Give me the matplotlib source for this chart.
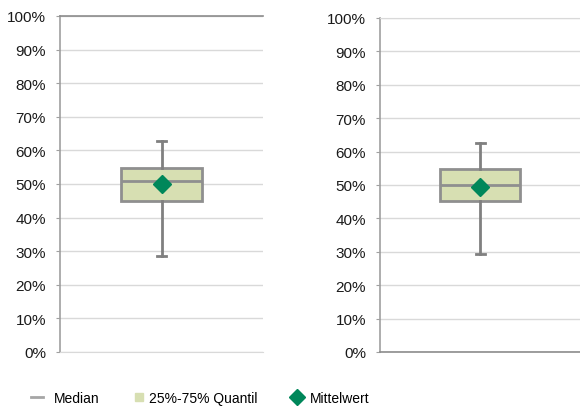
import matplotlib
matplotlib.use("Agg")
import matplotlib.pyplot as plt
from matplotlib.lines import Line2D
from matplotlib.ticker import PercentFormatter

plt.rcParams["font.family"] = ["Liberation Sans", "DejaVu Sans"]

# box statistics (fraction of 1)
whisker_low = [0.285, 0.294]
q1 = [0.450, 0.453]
median = [0.510, 0.500]
q3 = [0.547, 0.549]
whisker_high = [0.629, 0.625]
mean = [0.499, 0.494]

yticks = [i / 10 for i in range(11)]

box_fill = "#d7dfb2"
box_edge = "#8f8f8f"
whisk_col = "#808080"
mean_col = "#00875a"
grid_col = "#d9d9d9"

fig = plt.figure(figsize=(5.8, 4.1), dpi=100)
axes = [
    fig.add_axes([60 / 580, 57 / 410, 203 / 580, 336 / 410]),
    fig.add_axes([380 / 580, 57 / 410, 200 / 580, 334 / 410]),
]

for i, ax in enumerate(axes):
    stats = [dict(whislo=whisker_low[i], q1=q1[i], med=median[i], q3=q3[i],
                  whishi=whisker_high[i], mean=mean[i], fliers=[])]
    ax.bxp(stats, positions=[1], widths=0.8, showmeans=True, patch_artist=True,
           capwidths=0.09,
           boxprops=dict(facecolor=box_fill, edgecolor=box_edge, linewidth=2),
           medianprops=dict(color=box_edge, linewidth=2),
           whiskerprops=dict(color=whisk_col, linewidth=2),
           capprops=dict(color=whisk_col, linewidth=2),
           meanprops=dict(marker="D", markerfacecolor=mean_col,
                          markeredgecolor=mean_col, markersize=9))
    ax.set_xlim(0, 2)
    ax.set_ylim(0, 1)
    ax.set_yticks(yticks)
    ax.yaxis.set_major_formatter(PercentFormatter(1.0, decimals=0))
    ax.set_xticks([])
    ax.grid(axis="y", color=grid_col, linewidth=1)
    ax.set_axisbelow(True)
    ax.tick_params(axis="y", labelsize=11, length=3, color="#a0a0a0",
                   labelcolor="#1a1a1a", pad=7)
    ax.spines["right"].set_visible(False)
    ax.spines["left"].set_color("#a0a0a0")
    ax.spines["left"].set_linewidth(1.2)

# left chart: darker line on top, right chart: darker line at bottom
axes[0].spines["bottom"].set_color(grid_col)
axes[0].spines["top"].set_color("#8c8c8c")
axes[0].spines["top"].set_linewidth(1.2)
axes[1].spines["top"].set_color(grid_col)
axes[1].spines["bottom"].set_color("#8c8c8c")
axes[1].spines["bottom"].set_linewidth(1.2)

# legend entries, each placed on its own: handle, label, x position, text gap
legend_items = [
    (Line2D([], [], color="#a6a6a6", linewidth=2), "Median", 28, 0.75),
    (Line2D([], [], marker="s", linestyle="none", color=box_fill, markersize=6), "25%-75% Quantil", 130, 0.3),
    (Line2D([], [], marker="D", linestyle="none", color=mean_col, markersize=8), "Mittelwert", 288, 0.5),
]
for handle, label, xpos, gap in legend_items:
    fig.legend([handle], [label], loc="center left",
               bbox_to_anchor=(xpos / 580, 1 - 399 / 410),
               frameon=False, fontsize=10, handlelength=0.9,
               handletextpad=gap, borderaxespad=0, borderpad=0.2)

fig.savefig("out.png", dpi=100)
